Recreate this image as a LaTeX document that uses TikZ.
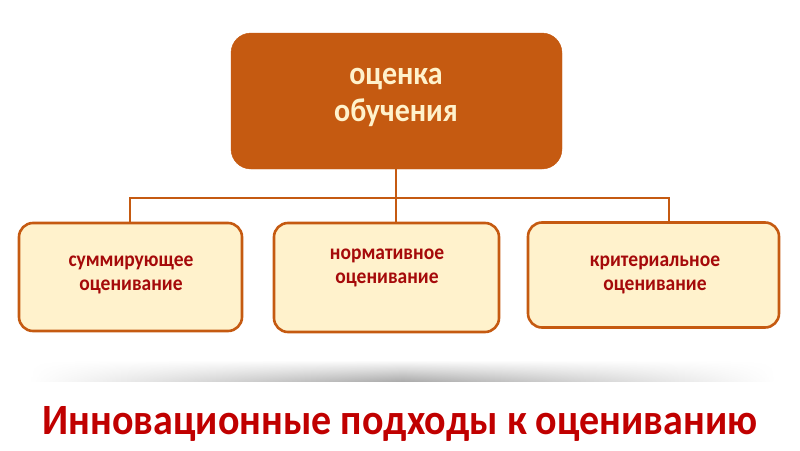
\documentclass[tikz,border=0pt]{standalone}
\usepackage{fontspec}
\setmainfont{Carlito}
\usepackage{tikz}
\usetikzlibrary{positioning,shapes.geometric,fadings}
\definecolor{rust}{HTML}{C55A11}
\definecolor{cream}{HTML}{FFF2CC}
\definecolor{wine}{HTML}{A50A0A}
\definecolor{title}{HTML}{C00000}
\newcommand{\tallstack}[1]{\scalebox{1}[1.1]{\begin{tabular}{@{}c@{}}#1\end{tabular}}}
\tikzfading[name=endsfade,left color=transparent!100,right color=transparent!100,middle color=transparent!0]

\begin{document}
\begin{tikzpicture}[
x=1pt,y=-1pt,
font=\bfseries,
headbox/.style={draw=rust,fill=rust,rounded corners=20pt,minimum width=331pt,minimum height=136pt},
kindbox/.style={draw=rust,line width=2.6pt,fill=cream,rounded corners=14pt},
headtext/.style={text=cream,inner sep=0pt,font=\fontsize{30}{33.5}\selectfont\bfseries},
kindtext/.style={text=wine,inner sep=0pt,font=\fontsize{19.5}{22}\selectfont\bfseries},
link/.style={draw=rust,line width=1.6pt}]
    \useasboundingbox (0,0) rectangle (800,450);

    % Draw boxes
    \node (head) [headbox] at (396.5,101) {};
    \node (headlbl) at (396,96) [headtext] {\tallstack{оценка\\обучения}};

    \node (summ) [kindbox,minimum width=223pt,minimum height=108pt] at (130.5,277) {};
    \node (norm) [kindbox,minimum width=225pt,minimum height=109pt] at (386.5,277.5) {};
    \node (crit) [kindbox,minimum width=251pt,minimum height=105pt] at (653.5,275) {};

    \node (summlbl) at (131,274) [kindtext] {\tallstack{суммирующее\\оценивание}};
    \node (normlbl) at (387,267) [kindtext] {\tallstack{нормативное\\оценивание}};
    \node (critlbl) at (655,273.5) [kindtext] {\tallstack{критериальное\\оценивание}};

    % Draw connectors
    \coordinate (split) at (396,198);
    \draw[link] (head.south -| split) -- (split);
    \draw[link] (summ.north -| 130,0) |- (split) -| (crit.north -| 669,0);
    \draw[link] (split) -- (split |- norm.north);

    % Shadow bar and title
    \shade[top color=white,bottom color=gray!65,path fading=endsfade] (30,360) rectangle (775,381);
    \node (caption) at (400,424) [text=title,font=\fontsize{40}{44}\selectfont\bfseries] {\scalebox{1}[1.08]{Инновационные подходы к оцениванию}};
\end{tikzpicture}
\end{document}
